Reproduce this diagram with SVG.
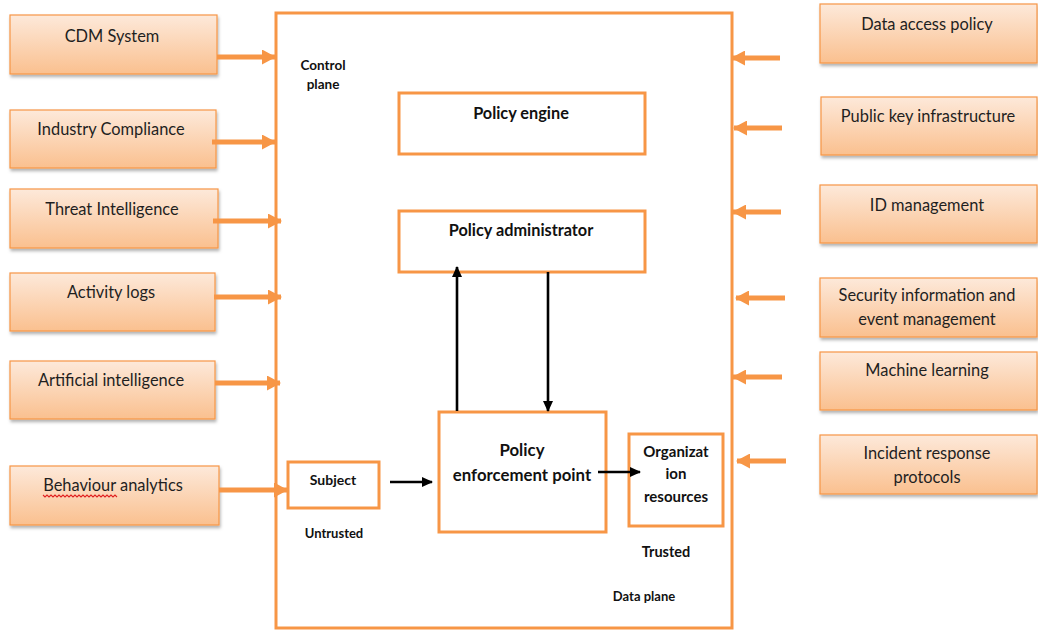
<svg xmlns="http://www.w3.org/2000/svg" width="1038" height="630" viewBox="0 0 1038 630">
  <style>
    .src rect { fill: url(#peach); stroke: #F79646; stroke-width: 1.2; filter: url(#shadow); }
    .src text { font-family: Lato, "Liberation Sans", sans-serif; font-size: 16.4px; fill: #1f1f1f; text-anchor: middle; }
    .inner rect { fill: #ffffff; stroke: #F79646; stroke-width: 3; }
    .inner text, .lbl { font-family: Lato, "Liberation Sans", sans-serif; font-weight: bold; fill: #111111; text-anchor: middle; }
    .inner text { font-size: 16.3px; }
    .lbl { font-size: 13px; }
    .feed { stroke: #F79646; stroke-width: 5; fill: none; }
    .flow { stroke: #000000; stroke-width: 2.6; fill: none; }
  </style>
  <defs>
    <linearGradient id="peach" x1="0" y1="0" x2="0" y2="1">
      <stop offset="0" stop-color="#FDE9DA"/>
      <stop offset="1" stop-color="#FAC08F"/>
    </linearGradient>
    <filter id="shadow" x="-5%" y="-10%" width="115%" height="130%">
      <feDropShadow dx="1" dy="2.5" stdDeviation="1.5" flood-color="#000000" flood-opacity="0.3"/>
    </filter>
    <marker id="oa" viewBox="0 0 14 15" refX="13" refY="7.5" markerWidth="14" markerHeight="15" markerUnits="userSpaceOnUse" orient="auto">
      <path d="M0,0 L14,7.5 L0,15 z" fill="#F79646"/>
    </marker>
    <marker id="ba" viewBox="0 0 11 10" refX="10" refY="5" markerWidth="11" markerHeight="10" markerUnits="userSpaceOnUse" orient="auto">
      <path d="M0,0 L11,5 L0,10 z" fill="#000000"/>
    </marker>
  </defs>

  <rect width="1038" height="630" fill="#ffffff"/>

  <!-- outer zero-trust boundary -->
  <g id="boundary">
    <rect x="276" y="13" width="456" height="615" fill="#ffffff" stroke="#F79646" stroke-width="3"/>
    <text class="lbl" x="323" y="70" style="font-size:13.5px">Control</text>
    <text class="lbl" x="323" y="89" style="font-size:13.5px">plane</text>
    <text class="lbl" x="334" y="538">Untrusted</text>
    <text class="lbl" x="666" y="557" style="font-size:14.5px">Trusted</text>
    <text class="lbl" x="644" y="601">Data plane</text>
  </g>

  <!-- left-hand input sources -->
  <g id="cdm" class="src"><rect x="10" y="15" width="207" height="59"/><text x="112" y="42">CDM System</text></g>
  <g id="compliance" class="src"><rect x="10" y="110" width="206" height="58"/><text x="111" y="135">Industry Compliance</text></g>
  <g id="threat" class="src"><rect x="10" y="189" width="208" height="59"/><text x="112" y="215">Threat Intelligence</text></g>
  <g id="activity" class="src"><rect x="10" y="273" width="205" height="58"/><text x="111" y="298">Activity logs</text></g>
  <g id="ai" class="src"><rect x="10" y="361" width="205" height="58"/><text x="111" y="386">Artificial intelligence</text></g>
  <g id="behaviour" class="src">
    <rect x="10" y="466" width="209" height="59"/>
    <text x="113" y="491">Behaviour analytics</text>
    <!-- spell-check squiggle under the first word -->
    <path d="M43,495 l2,2 l2,-2 l2,2 l2,-2 l2,2 l2,-2 l2,2 l2,-2 l2,2 l2,-2 l2,2 l2,-2 l2,2 l2,-2 l2,2 l2,-2 l2,2 l2,-2 l2,2 l2,-2 l2,2 l2,-2 l2,2 l2,-2 l2,2 l2,-2 l2,2 l2,-2 l2,2 l2,-2 l2,2 l2,-2 l2,2 l2,-2 l2,2 l2,-2 l2,2" fill="none" stroke="#e02020" stroke-width="1.1"/>
  </g>

  <!-- right-hand input sources -->
  <g id="data-access" class="src"><rect x="820" y="4" width="217" height="59"/><text x="927" y="30">Data access policy</text></g>
  <g id="pki" class="src"><rect x="821" y="97" width="216" height="58"/><text x="928" y="122">Public key infrastructure</text></g>
  <g id="id-mgmt" class="src"><rect x="820" y="185" width="217" height="58"/><text x="927" y="211">ID management</text></g>
  <g id="siem" class="src"><rect x="820" y="278" width="217" height="59"/><text x="927" y="301">Security information and</text><text x="927" y="325">event management</text></g>
  <g id="ml" class="src"><rect x="820" y="352" width="217" height="58"/><text x="927" y="376">Machine learning</text></g>
  <g id="incident" class="src"><rect x="820" y="435" width="217" height="59"/><text x="927" y="459">Incident response</text><text x="927" y="483">protocols</text></g>

  <!-- control and data plane components -->
  <g id="policy-engine" class="inner"><rect x="399" y="93" width="246" height="61"/><text x="521" y="119">Policy engine</text></g>
  <g id="policy-admin" class="inner"><rect x="399" y="211" width="246" height="61"/><text x="521" y="236">Policy administrator</text></g>
  <g id="pep" class="inner"><rect x="439" y="412" width="167" height="120"/><text x="522" y="456" style="font-size:16.8px">Policy</text><text x="522" y="481" style="font-size:16.8px">enforcement point</text></g>
  <g id="resources" class="inner"><rect x="629" y="434" width="94" height="92"/><text x="676" y="457" style="font-size:15px">Organizat</text><text x="676" y="479" style="font-size:15px">ion</text><text x="676" y="502" style="font-size:15px">resources</text></g>
  <g id="subject" class="inner"><rect x="288" y="462" width="91" height="46"/><text x="333" y="485" style="font-size:14px">Subject</text></g>

  <!-- connectors -->
  <g id="connectors">
    <line class="feed" x1="217" y1="57" x2="275" y2="57" marker-end="url(#oa)"/>
    <line class="feed" x1="212" y1="142" x2="275" y2="142" marker-end="url(#oa)"/>
    <line class="feed" x1="213" y1="221" x2="281" y2="221" marker-end="url(#oa)"/>
    <line class="feed" x1="214" y1="297" x2="281" y2="297" marker-end="url(#oa)"/>
    <line class="feed" x1="215" y1="383" x2="280" y2="383" marker-end="url(#oa)"/>
    <line class="feed" x1="219" y1="490" x2="287" y2="490" marker-end="url(#oa)"/>

    <line class="feed" x1="780" y1="58" x2="732" y2="58" marker-end="url(#oa)"/>
    <line class="feed" x1="782" y1="128" x2="734" y2="128" marker-end="url(#oa)"/>
    <line class="feed" x1="781" y1="212" x2="733" y2="212" marker-end="url(#oa)"/>
    <line class="feed" x1="785" y1="298" x2="736" y2="298" marker-end="url(#oa)"/>
    <line class="feed" x1="782" y1="377" x2="733" y2="377" marker-end="url(#oa)"/>
    <line class="feed" x1="786" y1="461" x2="737" y2="461" marker-end="url(#oa)"/>

    <line class="flow" x1="457" y1="411" x2="457" y2="267" marker-end="url(#ba)"/>
    <line class="flow" x1="548" y1="272" x2="548" y2="411" marker-end="url(#ba)"/>
    <line class="flow" x1="390" y1="482" x2="432" y2="482" marker-end="url(#ba)"/>
    <line class="flow" x1="598" y1="472" x2="640" y2="472" marker-end="url(#ba)"/>
  </g>
</svg>
